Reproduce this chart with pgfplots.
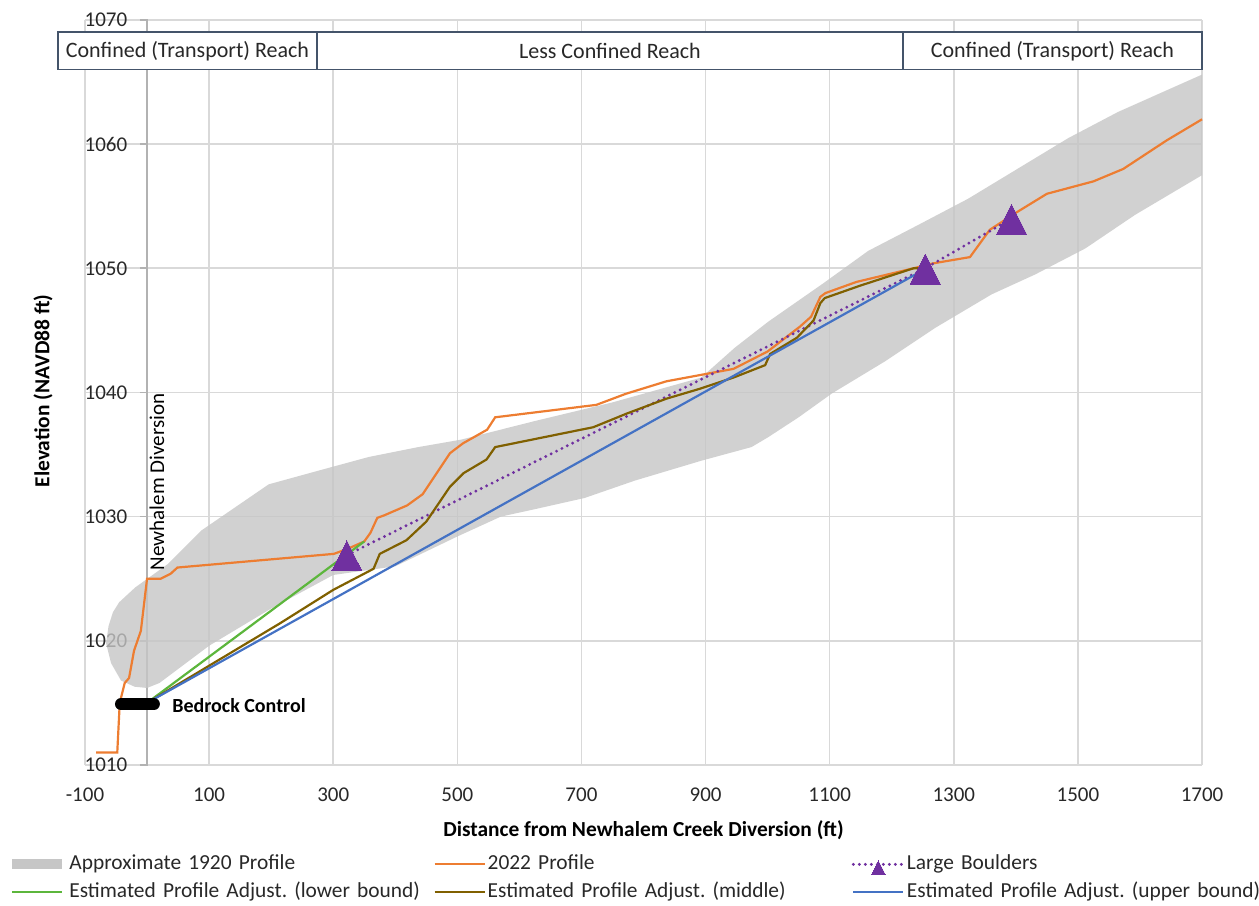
\documentclass[border=0pt]{standalone}
\usepackage{fontspec}
\setmainfont{Carlito}
\usepackage{pgfplots}
\pgfplotsset{compat=1.18}
\definecolor{c2022}{RGB}{237,125,49}
\definecolor{cgreen}{RGB}{92,182,60}
\definecolor{cbrown}{RGB}{128,96,0}
\definecolor{cblue}{RGB}{68,114,196}
\definecolor{cpurple}{RGB}{112,48,160}
\definecolor{cband}{RGB}{198,198,198}
\definecolor{cgrid}{RGB}{217,217,217}
\definecolor{cbox}{RGB}{68,84,106}
\definecolor{ctext}{RGB}{40,40,40}
\pgfplotsset{
  bandlegend/.style={legend image code/.code={\draw[line width=5pt, cband] (0cm,0cm) -- (0.88cm,0cm);}},
  boulderlegend/.style={legend image code/.code={\draw[##1, mark size=4pt, mark repeat=2, mark phase=2] plot coordinates {(0cm,0cm) (0.44cm,0cm) (0.88cm,0cm)};}},
  linelegend/.style={legend image code/.code={\draw[mark repeat=2,mark phase=2,##1] plot coordinates {(0cm,0cm) (0.44cm,0cm) (0.88cm,0cm)};}},
}
\begin{document}
\fontsize{11}{13}\selectfont
\begin{tikzpicture}
\begin{axis}[
  width=558.5pt, height=372.5pt, scale only axis,
  xmin=-100, xmax=1700, ymin=1010, ymax=1070,
  xtick={-100,100,...,1700}, ytick={1010,1020,...,1070},
  extra x ticks={0}, extra x tick labels={},
  extra x tick style={grid=major, major grid style={black!30, line width=0.8pt}},
  grid=major, major grid style={cgrid, line width=0.8pt},
  axis line style={draw=none},
  tick align=outside, major tick length=4pt,
  xtick style={draw=none},
  ytick style={draw=black!30, line width=0.8pt, xshift=31.4pt},
  clip=false,
  /pgf/number format/assume math mode=true,
  /pgf/number format/1000 sep={},
  tick label style={font=\fontsize{10.5}{12}\selectfont, text=ctext},
  yticklabel style={xshift=29pt},
  xticklabel style={yshift=-3.5pt},
  xlabel={\bfseries Distance from Newhalem Creek Diversion (ft)},
  xlabel style={at={(rel axis cs:0.5,-0.0872)}, anchor=center, font=\fontsize{10.7}{12}\selectfont},
  ylabel={\bfseries Elevation (NAVD88 ft)},
  ylabel style={at={(rel axis cs:-0.0376,0.502)}, anchor=center, font=\fontsize{10.7}{12}\selectfont},
  legend columns=3,
  legend cell align=left,
  legend style={at={(rel axis cs:-0.0699,-0.1161)}, anchor=north west, draw=none, fill=none,
    inner sep=0pt, row sep=1.5pt, column sep=0pt,
    font=\fontsize{10.7}{13}\selectfont,
    nodes={text width=181pt, inner xsep=1pt, inner ysep=1pt, text height=8pt, text depth=2.5pt, text=ctext}},
  linelegend,
]
% Approximate 1920 profile band
\addplot[fill=cband, draw=none, fill opacity=0.8, bandlegend]
coordinates {
(-66,1019.8) (-62,1021.2) (-55,1022.3) (-45,1023.1) (-19,1024.3) (34,1026.2) (88,1028.9)
(142,1030.75) (196,1032.6) (276,1033.7) (357,1034.8) (437,1035.6) (506,1036.2) (625,1037.7)
(750,1039.2) (893,1041.2) (947,1043.6) (1001,1045.7) (1090,1048.8) (1162,1051.4) (1243,1053.5)
(1323,1055.6) (1404,1058.05) (1485,1060.5) (1565,1062.6) (1700,1065.6)
(1700,1057.5) (1592,1054.3) (1512,1051.6) (1431,1049.5) (1361,1047.9) (1270,1045.2) (1189,1042.5)
(1103,1039.9) (1050,1038) (1001,1036.4) (974,1035.6) (893,1034.5) (786,1032.9) (705,1031.5)
(625,1030.6) (570,1030) (500,1028.4) (450,1027.2) (400,1026) (300,1025.3) (200,1022.6)
(100,1019.6) (20,1016.6) (0,1016.2) (-20,1016.3) (-42,1016.8) (-58,1018.2)
};
\addlegendentry{Approximate 1920 Profile}
% 2022 profile
\addplot[c2022, line width=1.1pt] coordinates {
(-82,1011) (-48,1011) (-44,1015) (-36,1016.6) (-29,1017) (-21,1019.2) (-10,1020.8) (0,1025)
(22,1025) (38,1025.4) (49,1025.9) (301,1027) (323,1027.4) (350,1028) (360,1028.7) (371,1029.9)
(382,1030.1) (419,1030.9) (444,1031.8) (488,1035.1) (509,1035.9) (548,1037) (561,1038)
(724,1039) (772,1039.9) (837,1040.9) (891,1041.4) (945,1041.9) (1000,1043.3) (1052,1045.3)
(1070,1046.1) (1085,1047.7) (1093,1048) (1143,1048.9) (1235,1050) (1267,1050.4) (1326,1050.9)
(1358,1053.1) (1401,1054.5) (1450,1056) (1525,1057) (1573,1058) (1643,1060.3) (1700,1062)
};
\addlegendentry{2022 Profile}
% Large boulders
\addplot[cpurple, line width=1.6pt, dash pattern=on 0pt off 3pt, line cap=round,
  mark=triangle*, mark size=8.7pt,
  mark options={solid, fill=cpurple, draw=cpurple, line width=0pt, yscale=1.15, yshift=-2.5pt},
  boulderlegend]
coordinates {(322,1026.9) (1254,1050) (1393,1054)};
\addlegendentry{Large Boulders}
% lower bound
\addplot[cgreen, line width=1.1pt] coordinates {(0,1015) (350,1028)};
\addlegendentry{Estimated Profile Adjust.\ (lower bound)}
% middle
\addplot[cbrown, line width=1.1pt] coordinates {
(0,1015) (214,1021.4) (300,1024.1) (365,1025.8) (375,1027) (418,1028.1) (450,1029.6)
(488,1032.4) (510,1033.5) (547,1034.6) (561,1035.6) (719,1037.2) (773,1038.3) (837,1039.5)
(891,1040.3) (945,1041.2) (996,1042.2) (1004,1043.1) (1047,1044.4) (1074,1045.8) (1085,1047.2)
(1092,1047.6) (1149,1048.6) (1235,1050) (1256,1050)
};
\addlegendentry{Estimated Profile Adjust.\ (middle)}
% upper bound
\addplot[cblue, line width=1.1pt] coordinates {(0,1015) (1256,1050)};
\addlegendentry{Estimated Profile Adjust.\ (upper bound)}
% bedrock control
\addplot[black, line width=6pt, line cap=round, forget plot] coordinates {(-42,1014.9) (11,1014.9)};
\node[anchor=west, inner sep=0pt, font=\fontsize{10}{12}\selectfont\bfseries] at (axis cs:40,1014.8) {Bedrock Control};
\node[rotate=90, anchor=north, inner sep=1pt, font=\fontsize{10.5}{12}\selectfont] at (axis cs:0,1032.8) {Newhalem Diversion};
% reach boxes
\draw[cbox, line width=0.75pt, fill=white] (axis cs:-143.5,1066) rectangle (axis cs:273.8,1069.03)
  node[midway, text=ctext] {Confined (Transport) Reach};
\draw[cbox, line width=0.75pt, fill=white] (axis cs:273.8,1066) rectangle (axis cs:1218,1069.03)
  node[midway, text=ctext] {Less Confined Reach};
\draw[cbox, line width=0.75pt, fill=white] (axis cs:1218,1066) rectangle (axis cs:1700,1069.03)
  node[midway, text=ctext] {Confined (Transport) Reach};
\coordinate (bbSW) at (rel axis cs:-0.0761,-0.1893);
\coordinate (bbNE) at (rel axis cs:1.0510,1.0268);
\end{axis}
\pgfresetboundingbox
\path[use as bounding box] (bbSW) rectangle (bbNE);
\end{tikzpicture}
\end{document}
